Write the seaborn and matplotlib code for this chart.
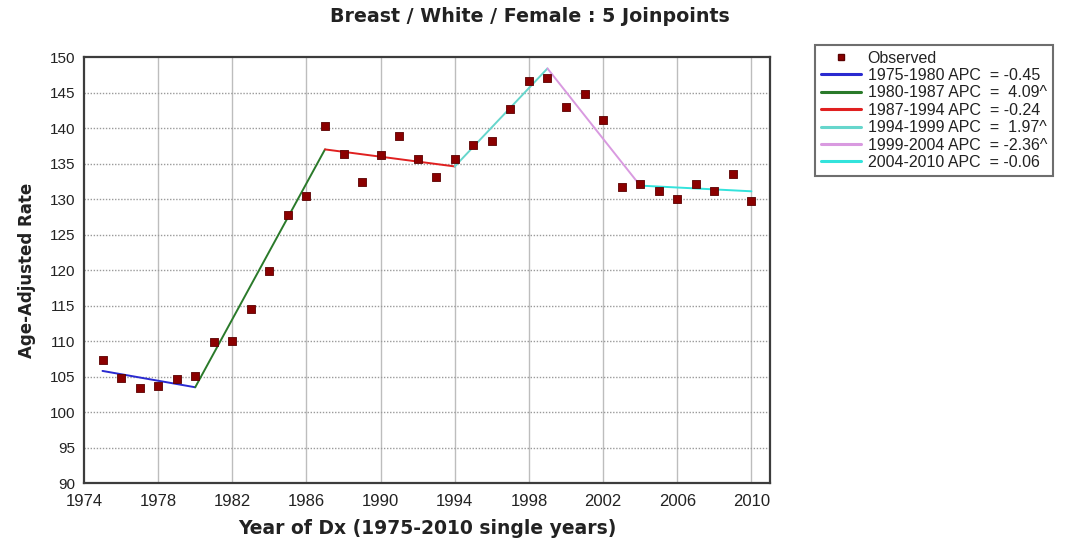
import matplotlib
matplotlib.use("Agg")
import matplotlib.pyplot as plt
import seaborn as sns
import pandas as pd
from matplotlib.lines import Line2D

# Observed age-adjusted rates, one per diagnosis year
years = list(range(1975, 2011))
observed = [107.3, 104.8, 103.4, 103.7, 104.7, 105.1, 109.9, 110.0, 114.5, 119.9,
            127.8, 130.4, 140.3, 136.3, 132.4, 136.2, 138.9, 135.7, 133.1, 135.7,
            137.6, 138.2, 142.7, 146.7, 147.1, 143.0, 144.8, 141.2, 131.7, 132.1,
            131.2, 130.0, 132.1, 131.1, 133.6, 129.7]

# Joinpoint model: fitted rate at each segment boundary
joint_years = [1975, 1980, 1987, 1994, 1999, 2004, 2010]
joint_fit = [105.8, 103.5, 137.0, 134.6, 148.4, 131.9, 131.1]

# Segment labels (annual percent change) and colours
apc_labels = ["1975-1980 APC  = -0.45", "1980-1987 APC  =  4.09^",
              "1987-1994 APC  = -0.24", "1994-1999 APC  =  1.97^",
              "1999-2004 APC  = -2.36^", "2004-2010 APC  = -0.06"]
seg_colors = ["#2a2ad0", "#2a7a2a", "#e02020", "#66d6cc", "#d99ae0", "#33e3dc"]

y_ticks = list(range(90, 151, 5))
x_ticks = list(range(1974, 2011, 4))

obs_df = pd.DataFrame({"year": years, "rate": observed})
rows = []
for i, lab in enumerate(apc_labels):
    for j in (i, i + 1):
        rows.append({"segment": lab, "year": joint_years[j], "rate": joint_fit[j]})
fit_df = pd.DataFrame(rows)

sns.set_style("white")
plt.rcParams["font.family"] = ["Liberation Sans", "DejaVu Sans"]

fig = plt.figure(figsize=(10.71, 5.49), dpi=100)
ax = fig.add_axes([0.0784, 0.120, 0.6405, 0.776])

sns.lineplot(data=fit_df, x="year", y="rate", hue="segment", hue_order=apc_labels,
             palette=seg_colors, units="segment", estimator=None, sort=False,
             linewidth=1.4, legend=False, ax=ax, zorder=3)
sns.scatterplot(data=obs_df, x="year", y="rate", marker="s", s=30,
                color="#8b0000", edgecolor="#5a0000", linewidth=0.6,
                legend=False, ax=ax, zorder=4)

ax.set_xlim(1974, 2011)
ax.set_ylim(90, 150)
ax.set_xticks(x_ticks)
ax.set_yticks(y_ticks)
ax.tick_params(axis="both", length=3, color="#808080", colors="#222222")
ax.tick_params(axis="x", labelsize=12, pad=5)
ax.tick_params(axis="y", labelsize=11, pad=3)

# Grid: light solid verticals, dotted horizontals
for x in x_ticks[1:]:
    ax.axvline(x, color="#bdbdbd", linewidth=1.0, zorder=1)
for y in y_ticks[1:-1]:
    ax.axhline(y, color="#9a9a9a", linewidth=1.0, linestyle=(0, (1, 1.2)), zorder=1)

for sp in ax.spines.values():
    sp.set_color("#3c3c3c")
    sp.set_linewidth(1.6)

ax.set_xlabel("Year of Dx (1975-2010 single years)", fontsize=13.5, fontweight="bold",
              family="DejaVu Sans", color="#222222", labelpad=7)
ax.set_ylabel("Age-Adjusted Rate", fontsize=12, fontweight="bold",
              family="DejaVu Sans", color="#222222", labelpad=10)
fig.text(0.495, 0.970, "Breast / White / Female : 5 Joinpoints", ha="center", va="center",
         fontsize=13.7, fontweight="bold", family="DejaVu Sans", color="#222222")

handles = [Line2D([], [], marker="s", linestyle="none", color="#8b0000",
                  markeredgecolor="#5a0000", markersize=5)]
handles += [Line2D([], [], color=c, linewidth=2.2) for c in seg_colors]
labels = ["Observed"] + apc_labels
leg = fig.legend(handles, labels, loc="upper left", bbox_to_anchor=(0.761, 0.918),
                 frameon=True, fancybox=False, fontsize=11.5, handlelength=2.5,
                 handletextpad=0.45, labelspacing=0.15, borderpad=0.35,
                 borderaxespad=0)
leg.get_frame().set_edgecolor("#4a4a4a")
leg.get_frame().set_linewidth(1.5)
for t in leg.get_texts():
    t.set_color("#222222")

fig.savefig("out.png", dpi=100)
